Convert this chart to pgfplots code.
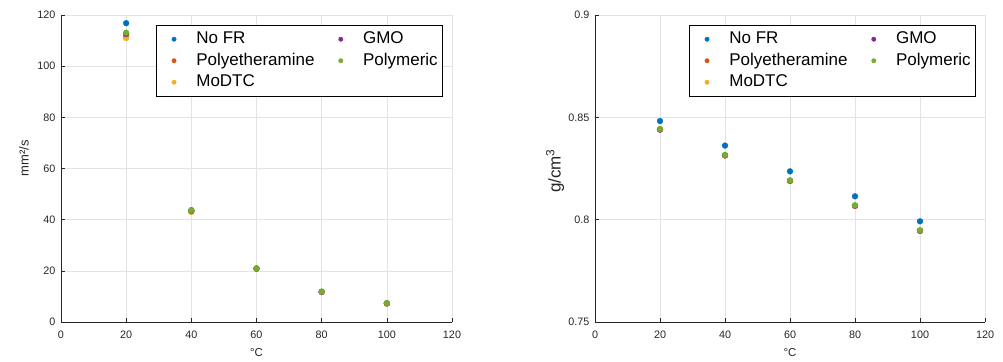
\documentclass[border=0pt]{standalone}
\usepackage{fontspec}
\setmainfont{Liberation Sans}
\usepackage{pgfplots}
\pgfplotsset{compat=1.18}

\definecolor{cA}{HTML}{0072BD}
\definecolor{cB}{HTML}{D95319}
\definecolor{cC}{HTML}{EDB120}
\definecolor{cD}{HTML}{7E2F8E}
\definecolor{cE}{HTML}{77AC30}
\definecolor{axgray}{HTML}{262626}

\pgfplotsset{
  mlstyle/.style={
    scale only axis,
    width=391bp, height=307bp,
    xmin=0, xmax=120, xtick={0,20,...,120},
    axis lines*=left,
    axis line style={axgray, line width=0.6bp},
    tick style={axgray, line width=0.6bp},
    major tick length=4bp,
    tick align=inside,
    grid=major,
    major grid style={gray!22, line width=0.6bp},
    ticklabel style={font=\fontsize{10.8bp}{13bp}\selectfont, text=axgray},
    /pgf/number format/assume math mode=true,
    xticklabel style={yshift=-5bp},
    yticklabel style={xshift=-2bp},
    xlabel style={at={(axis description cs:0.5,0)}, anchor=center, yshift=-31bp,
      font=\fontsize{11.5bp}{14bp}\selectfont, text=axgray},
    legend style={at={(1,1)}, anchor=north east, xshift=-9bp, yshift=-10bp,
      draw=black, line width=0.6bp, fill=white,
      font=\fontsize{17bp}{20bp}\selectfont,
      inner xsep=5bp, inner ysep=6bp,
      nodes={inner sep=0bp, text height=12.3bp, text depth=3.6bp},
      row sep=5.6bp,
      /tikz/every odd column/.append style={column sep=13bp},
      /tikz/every even column/.append style={column sep=14bp}},
    legend image code/.code={
      \path (-3bp,0bp) (18bp,0bp);
      \draw[mark repeat=2, mark phase=2, #1] plot coordinates {(0bp,0bp) (9bp,0bp) (18bp,0bp)};
    },
    legend columns=2,
    legend cell align=left,
    every axis plot/.append style={only marks, mark=*, mark size=2.9bp, forget plot},
  },
  entry/.style={only marks, mark=*, mark size=2.1bp, #1, mark options={fill=#1, draw=#1}},
}

\begin{document}
\begin{tikzpicture}
\useasboundingbox (-61bp,-40bp) rectangle (942bp,322bp);

% kinematic viscosity
\begin{axis}[mlstyle, at={(0,0)}, anchor=south west,
  ymin=0, ymax=120, ytick={0,20,...,120},
  xlabel={°C}, ylabel={mm²/s},
  ylabel style={at={(axis description cs:-0.0946,0.533)}, anchor=center,
    font=\fontsize{13bp}{15bp}\selectfont, text=axgray}]
  \addlegendimage{entry=cA}
  \addlegendimage{entry=cD}
  \addlegendimage{entry=cB}
  \addlegendimage{entry=cE}
  \addlegendimage{entry=cC}
  \legend{No FR, GMO, Polyetheramine, Polymeric, MoDTC}
  \addplot[cA, mark options={fill=cA, draw=cA}] coordinates {(20,116.8) (40,43.7) (60,20.9) (80,11.8) (100,7.3)};
  \addplot[cB, mark options={fill=cB, draw=cB}] coordinates {(20,111.5) (40,43.2) (60,20.8) (80,11.7) (100,7.2)};
  \addplot[cC, mark options={fill=cC, draw=cC}] coordinates {(20,111.0) (40,43.1) (60,20.8) (80,11.7) (100,7.2)};
  \addplot[cD, mark options={fill=cD, draw=cD}] coordinates {(20,112.6) (40,43.4) (60,20.9) (80,11.8) (100,7.3)};
  \addplot[cE, mark options={fill=cE, draw=cE}] coordinates {(20,113.1) (40,43.6) (60,21.0) (80,11.9) (100,7.4)};
\end{axis}

% density
\begin{axis}[mlstyle, at={(534bp,0)}, anchor=south west, width=390bp,
  ymin=0.75, ymax=0.9, ytick={0.75,0.8,0.85,0.9},
  yticklabel style={/pgf/number format/fixed, /pgf/number format/precision=2},
  xlabel={°C}, ylabel={g/cm\textsuperscript{3}},
  ylabel style={at={(axis description cs:-0.1026,0.492)}, anchor=center,
    font=\fontsize{17bp}{19bp}\selectfont, text=axgray}]
  \addlegendimage{entry=cA}
  \addlegendimage{entry=cD}
  \addlegendimage{entry=cB}
  \addlegendimage{entry=cE}
  \addlegendimage{entry=cC}
  \legend{No FR, GMO, Polyetheramine, Polymeric, MoDTC}
  \addplot[cA, mark options={fill=cA, draw=cA}] coordinates {(20,0.8482) (40,0.8362) (60,0.8236) (80,0.8114) (100,0.7992)};
  \addplot[cB, mark options={fill=cB, draw=cB}] coordinates {(20,0.8441) (40,0.8314) (60,0.8190) (80,0.8068) (100,0.7946)};
  \addplot[cC, mark options={fill=cC, draw=cC}] coordinates {(20,0.8440) (40,0.8313) (60,0.8189) (80,0.8067) (100,0.7945)};
  \addplot[cD, mark options={fill=cD, draw=cD}] coordinates {(20,0.8440) (40,0.8314) (60,0.8190) (80,0.8068) (100,0.7946)};
  \addplot[cE, mark options={fill=cE, draw=cE}] coordinates {(20,0.8443) (40,0.8316) (60,0.8192) (80,0.8070) (100,0.7948)};
\end{axis}
\end{tikzpicture}
\end{document}
